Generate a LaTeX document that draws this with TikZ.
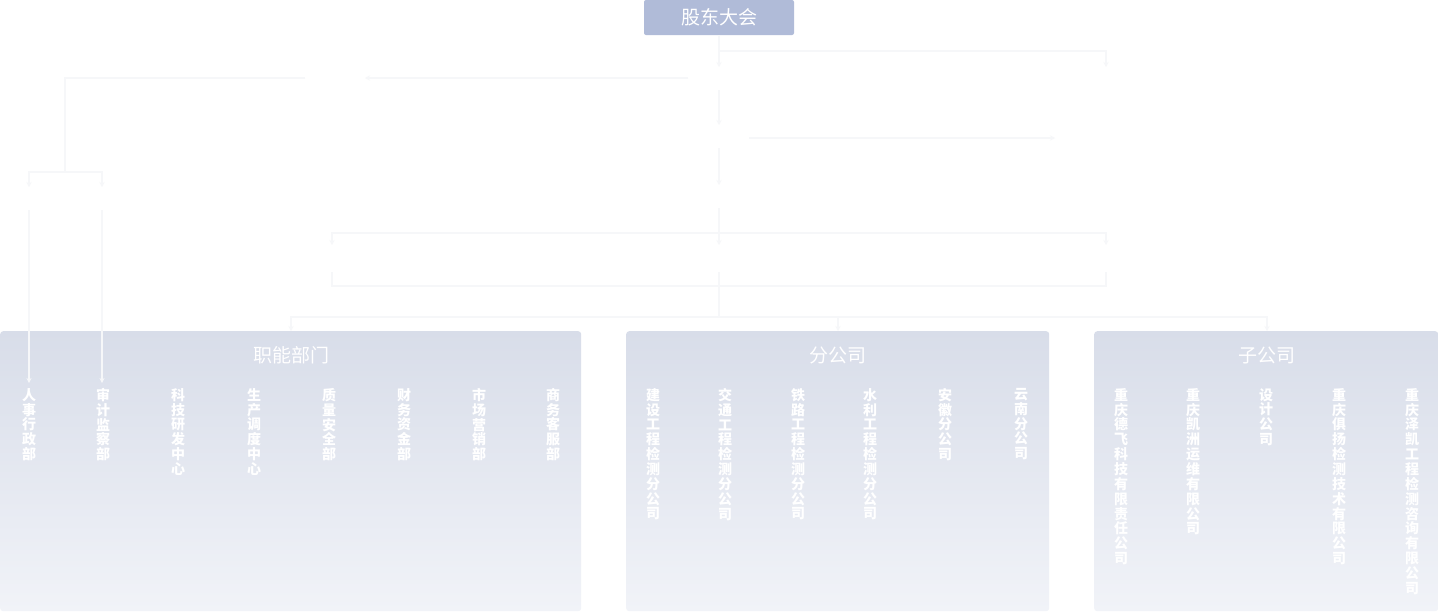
\documentclass[tikz,border=0pt]{standalone}
\usepackage{fontspec}
\setmainfont{Noto Sans CJK SC}
\usetikzlibrary{arrows.meta}
\definecolor{linec}{RGB}{246,247,249}
\definecolor{topbox}{RGB}{176,187,216}
\definecolor{ptop}{RGB}{216,221,233}
\definecolor{pbot}{RGB}{241,243,248}
\tikzset{
  conn/.style={draw=linec, line width=1.1pt},
  arr/.style={conn, -{Stealth[length=5pt,width=5pt]}},
  panel/.style={top color=ptop, bottom color=pbot, draw=none, rounded corners=3pt,
    inner sep=0pt, anchor=north west, minimum height=280pt},
  ttl/.style={text=white, font=\fontsize{19}{19}\selectfont, inner sep=0pt},
  vtext/.style={text=white, font=\fontsize{14}{14.85}\selectfont\bfseries, align=center,
    anchor=north, inner sep=0pt},
}
\begin{document}
\begin{tikzpicture}[x=1pt,y=-1pt]
\useasboundingbox (0,0) rectangle (1438,611);
\fill[white] (0,0) rectangle (1438,611);

% top box
\node[fill=topbox, rounded corners=2pt, minimum width=150pt, minimum height=35pt,
  inner sep=0pt, text=white, font=\fontsize{19}{19}\selectfont] (gd) at (719,17.5) {股东大会};

% panels
\node[panel, minimum width=581pt] (p1) at (0,331) {};
\node[panel, minimum width=423pt] (p2) at (626,331) {};
\node[panel, minimum width=344pt] (p3) at (1094,331) {};

\node[ttl] (t1) at (291,355) {职能部门};
\node[ttl] (t2) at (838,355) {分公司};
\node[ttl] (t3) at (1267,355) {子公司};

% column texts
\node[vtext] (c1) at (29,388) {人\\事\\行\\政\\部};
\node[vtext] (c2) at (103,388) {审\\计\\监\\察\\部};
\node[vtext] (c3) at (178,388) {科\\技\\研\\发\\中\\心};
\node[vtext] (c4) at (254,388) {生\\产\\调\\度\\中\\心};
\node[vtext] (c5) at (329,388) {质\\量\\安\\全\\部};
\node[vtext] (c6) at (404,388) {财\\务\\资\\金\\部};
\node[vtext] (c7) at (479,388) {市\\场\\营\\销\\部};
\node[vtext] (c8) at (553,388) {商\\务\\客\\服\\部};

\node[vtext] (c9) at (653,388) {建\\设\\工\\程\\检\\测\\分\\公\\司};
\node[vtext] (c10) at (725,388) {交\\通\\工\\程\\检\\测\\分\\公\\司};
\node[vtext] (c11) at (798,388) {铁\\路\\工\\程\\检\\测\\分\\公\\司};
\node[vtext] (c12) at (870,388) {水\\利\\工\\程\\检\\测\\分\\公\\司};
\node[vtext] (c13) at (945,388) {安\\徽\\分\\公\\司};
\node[vtext] (c14) at (1021,388) {云\\南\\分\\公\\司};

\node[vtext] (c15) at (1121,388) {重\\庆\\德\\飞\\科\\技\\有\\限\\责\\任\\公\\司};
\node[vtext] (c16) at (1193,388) {重\\庆\\凯\\洲\\运\\维\\有\\限\\公\\司};
\node[vtext] (c17) at (1266,388) {设\\计\\公\\司};
\node[vtext] (c18) at (1339,388) {重\\庆\\俱\\扬\\检\\测\\技\\术\\有\\限\\公\\司};
\node[vtext] (c19) at (1412,388) {重\\庆\\泽\\凯\\工\\程\\检\\测\\咨\\询\\有\\限\\公\\司};

% invisible node ends
\coordinate (n1t) at (719,67);  \coordinate (n1b) at (719,90);  \coordinate (n1l) at (688,78);
\coordinate (n2t) at (1106,67);
\coordinate (n3r) at (365,78);  \coordinate (n3l) at (305,78);
\coordinate (n4t) at (719,125); \coordinate (n4b) at (719,148); \coordinate (n4r) at (749,138);
\coordinate (n5l) at (1055,138);
\coordinate (n6t) at (719,185); \coordinate (n6b) at (719,208);
\coordinate (n7t) at (719,245); \coordinate (n7b) at (719,272);
\coordinate (n8t) at (332,245); \coordinate (n8b) at (332,272);
\coordinate (n9t) at (1106,245); \coordinate (n9b) at (1106,272);
\coordinate (nat) at (29,187);  \coordinate (nab) at (29,210);
\coordinate (nbt) at (102,187); \coordinate (nbb) at (102,210);
\coordinate (j1) at (719,51);
\coordinate (j2) at (65,172);
\coordinate (j3) at (719,233);
\coordinate (j4) at (332,286);
\coordinate (j5) at (719,317);

% connectors
\draw[arr] (gd.south) -- (n1t);
\draw[arr] (j1) -| (n2t);
\draw[arr] (n1l) -- (n3r);
\draw[conn] (n3l) -| (j2);
\draw[arr] (j2) -| (nat);
\draw[arr] (j2) -| (nbt);
\draw[arr] (nab) -- (29,383);
\draw[arr] (nbb) -- (102,383);
\draw[arr] (n1b) -- (n4t);
\draw[arr] (n4r) -- (n5l);
\draw[arr] (n4b) -- (n6t);
\draw[arr] (n6b) -- (n7t);
\draw[arr] (j3) -| (n8t);
\draw[arr] (j3) -| (n9t);
\draw[conn] (n8b) |- (j4) -| (n9b);
\draw[conn] (n7b) -- (j5);
\draw[arr] (j5) -| (291,331);
\draw[arr] (j5) -| (838,331);
\draw[arr] (j5) -| (1267,331);
\end{tikzpicture}
\end{document}
